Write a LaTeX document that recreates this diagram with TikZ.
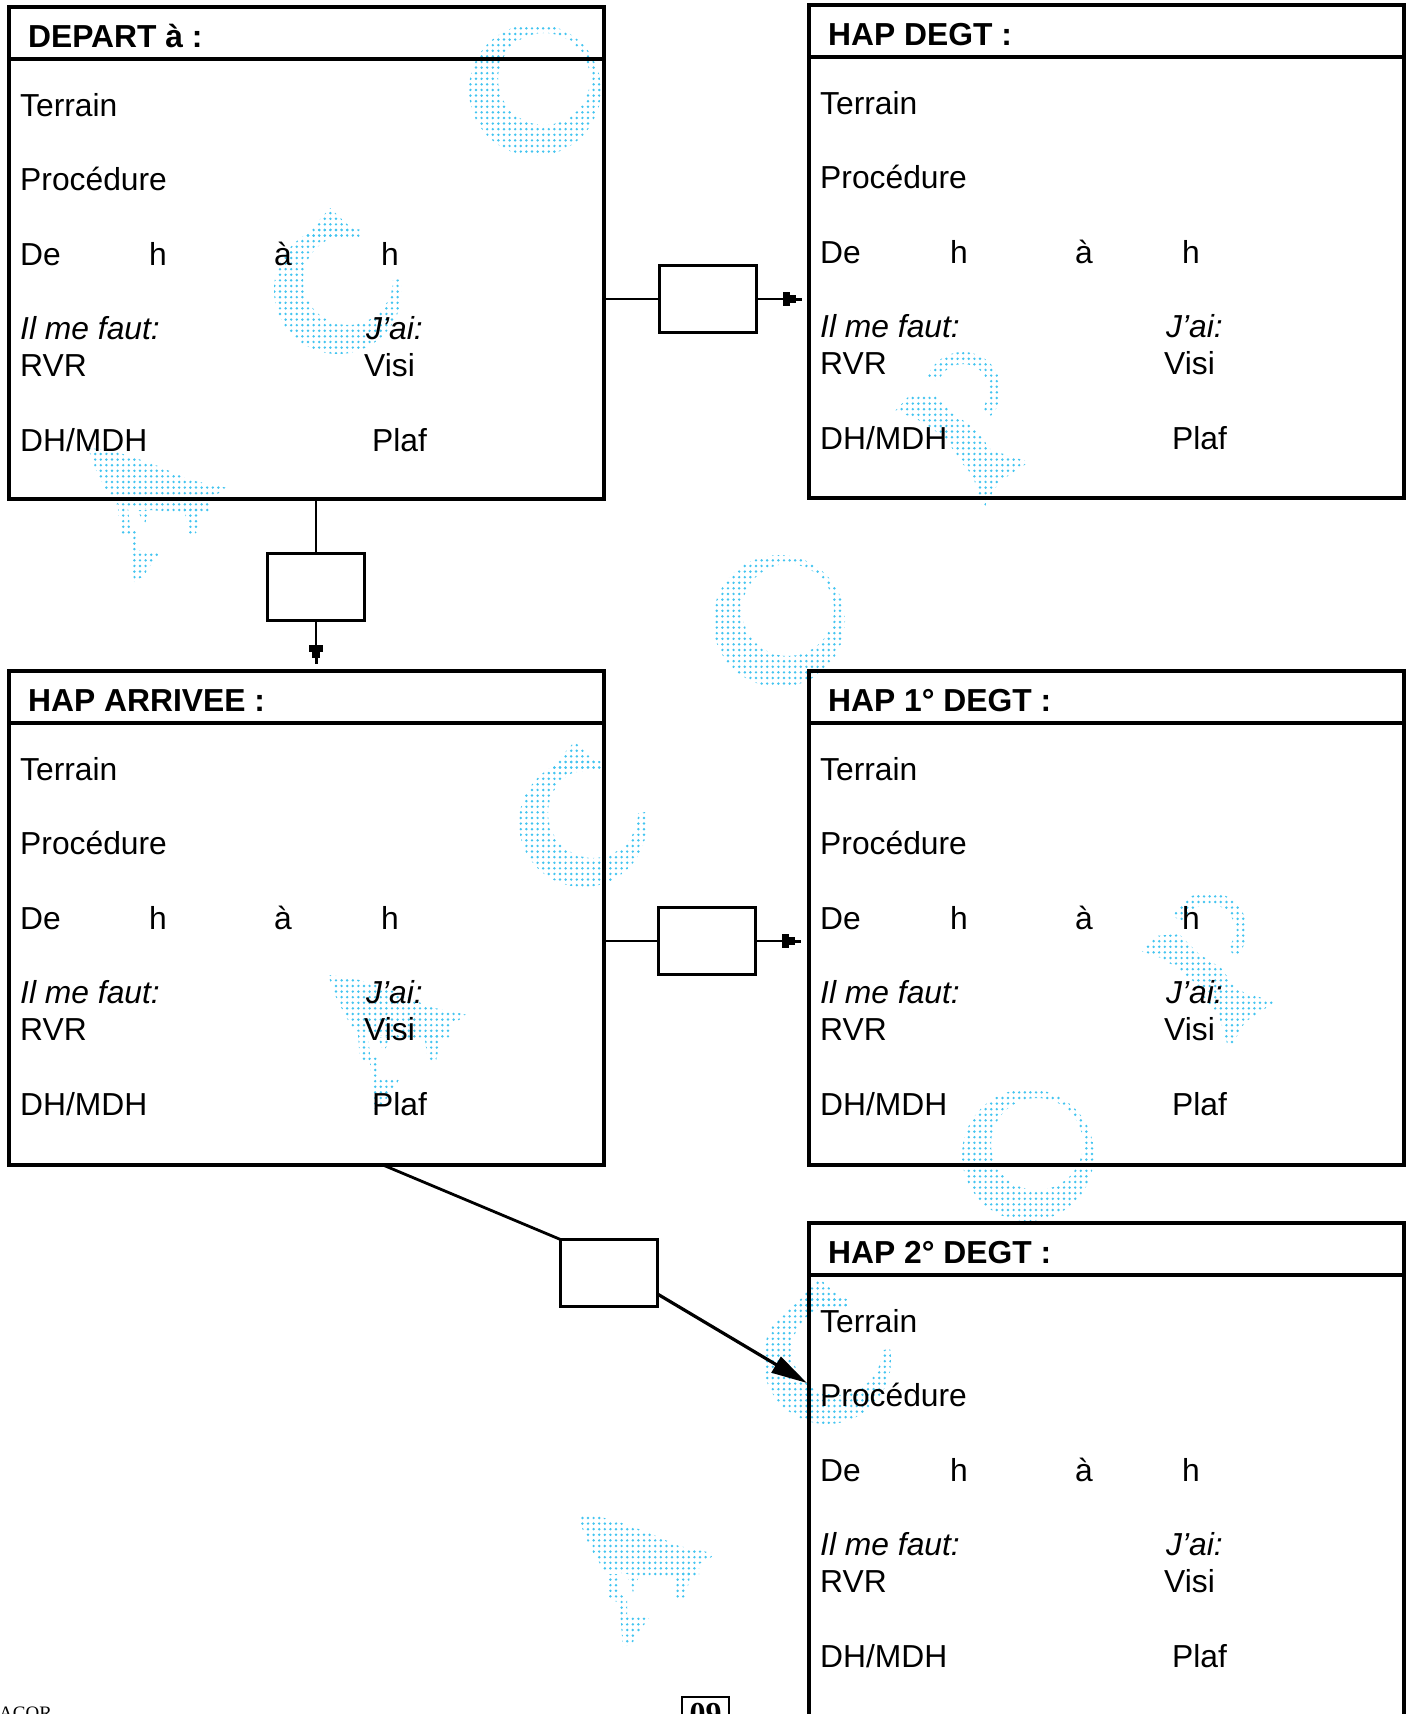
\documentclass[tikz,border=0pt]{standalone}
\usepackage{fontspec}
\setmainfont{Liberation Sans}
\newfontfamily\serialfont{Liberation Serif}
\usepackage{tikz}
\usetikzlibrary{arrows.meta,positioning,calc,patterns.meta}
\definecolor{stampblue}{RGB}{66,196,240}
\newcommand{\formsize}{\fontsize{31.8pt}{38pt}\selectfont}

\begin{document}
\begin{tikzpicture}[
    x=1pt, y=-1pt,
    font=\formsize,
    formbox/.style={draw, line width=4.5pt, minimum width=595pt, inner sep=0pt, outer sep=0pt, anchor=north west},
    headrule/.style={line width=4.5pt},
    field/.style={anchor=base west, inner sep=0pt, font=\formsize},
    heading/.style={field, font=\formsize\bfseries},
    need/.style={field, font=\formsize\itshape},
    relay/.style={draw, line width=2.4pt, minimum width=97pt, minimum height=67pt, inner sep=0pt, outer sep=0pt},
    link/.style={line width=2.6pt},
    plug/.style={link, -{Rectangle[length=7pt,width=14pt]Rectangle[length=6pt,width=8pt]Rectangle[length=6pt,width=3pt]}},
    stamp/.style={pattern={Dots[distance=5.6pt,radius=1.35pt]}, pattern color=stampblue},
    ringmark/.pic={
        \fill[stamp, even odd rule] (0,0) circle[radius=66] (9,-11) circle[radius=46];
    },
    hookmark/.pic={
        \begin{scope}
            \clip (0,0) -- (-10:130) -- (40:150) -- (90:150) -- (180:150) -- (270:150) -- (290:130) -- cycle;
            \fill[stamp, even odd rule] (0,0) circle[radius=64] (10,-10) circle[radius=45];
        \end{scope}
        \fill[stamp] (-36,-50) -- (-8,-82) -- (24,-52) -- cycle;
    },
    wedgemark/.pic={
        \fill[stamp] (-2,0) -- (18,2) -- (40,8) -- (68,18) -- (100,32) -- (138,40) -- (120,50) -- (120,64)
            -- (85,64) -- (60,62) -- (25,56) -- (16,42) -- (6,22) -- cycle;
        \fill[stamp] (28,60) -- (38,60) -- (40,80) -- (48,84) -- (48,102) -- (70,104) -- (60,118) -- (54,128)
            -- (44,134) -- (42,110) -- (40,88) -- (30,86) -- cycle;
        \fill[stamp] (48,62) -- (60,62) -- (54,78) -- cycle;
        \fill[stamp] (94,58) -- (112,58) -- (106,86) -- (98,86) -- cycle;
    },
    twirlmark/.pic={
        \fill[stamp] (200:38) arc[start angle=200, end angle=405, radius=38] -- (405:26) arc[start angle=405, end angle=200, radius=26] -- cycle;
        \fill[stamp] (-68,21) -- (-54,6) -- (-30,4) -- (-10,24) -- (12,38) -- (28,60) -- (66,72) -- (36,92)
            -- (20,120) -- (10,86) -- (-2,72) -- (-15,52) -- (-30,39) -- (-48,28) -- cycle;
    }
]
\useasboundingbox (0,0) rectangle (1415,1714);
\clip (0,0) rectangle (1415,1714);

% background stamps
\foreach \sx/\sy in {535/90, 779/621, 1028/1155} \pic at (\sx,\sy) {ringmark};
\foreach \sx/\sy in {338/290, 583/823, 827/1360} \pic at (\sx,\sy) {hookmark};
\foreach \sx/\sy in {90/448, 330/975, 579/1514} \pic at (\sx,\sy) {wedgemark};
\foreach \sx/\sy in {963/390, 1209/930} \pic at (\sx,\sy) {twirlmark};

% the five forms
\foreach \fm/\bx/\by/\bh/\dx/\title in {
    depart/9/7/492/0/{DEPART à :},
    degt/809/5/493/1/{HAP DEGT :},
    arrivee/9/671/494/0/{HAP ARRIVEE :},
    degt1/809/671/494/1/{HAP 1° DEGT :},
    degt2/809/1223/600/1/{HAP 2° DEGT :}}
{
    \node[formbox, minimum height=\bh pt] (\fm) at (\bx,\by) {};
    \draw[headrule] ([yshift=-52pt]\fm.north west) -- ([yshift=-52pt]\fm.north east);
    \node[heading] (\fm-title) at (\bx+19,\by+40) {\title};
    \node[field] (\fm-terrain) at (\bx+11,\by+109) {Terrain};
    \node[field] (\fm-proc) at (\bx+11,\by+183) {Procédure};
    \node[field] (\fm-from) at (\bx+11,\by+258) {De};
    \node[field] (\fm-h1) at (\bx+140+\dx,\by+258) {h};
    \node[field] (\fm-to) at (\bx+265+\dx,\by+258) {à};
    \node[field] (\fm-h2) at (\bx+372+\dx,\by+258) {h};
    \node[need] (\fm-need) at (\bx+11,\by+332) {Il me faut:};
    \node[need] (\fm-have) at (\bx+357,\by+332) {J’ai:};
    \node[field] (\fm-rvr) at (\bx+11,\by+369) {RVR};
    \node[field] (\fm-visi) at (\bx+355,\by+369) {Visi};
    \node[field] (\fm-dh) at (\bx+11,\by+444) {DH/MDH};
    \node[field] (\fm-plaf) at (\bx+363,\by+444) {Plaf};
}

% relay boxes and links
\node[relay] (relay1) at (708,299) {};
\node[relay] (relay2) at (316,587) {};
\node[relay] (relay3) at (707,941) {};
\node[relay] (relay4) at (609,1273) {};

\draw[link] (relay1.west -| depart.east) -- (relay1.west);
\coordinate (tip1) at ($(degt.west |- relay1.east)+(-7,0)$);
\draw[plug] (relay1.east) -- (tip1);

\draw[link] (depart.south -| relay2.north) -- (relay2.north);
\coordinate (tip2) at ($(arrivee.north -| relay2.south)+(0,-7)$);
\draw[plug] (relay2.south) -- (tip2);

\draw[link] (relay3.west -| arrivee.east) -- (relay3.west);
\coordinate (tip3) at ($(degt1.west |- relay3.east)+(-8,0)$);
\draw[plug] (relay3.east) -- (tip3);

\coordinate (out4) at ([xshift=374pt]arrivee.south west);
\draw[link, line width=2.8pt] (out4) -- (relay4.north west);
\coordinate (tip4) at ([xshift=-2pt,yshift=-160pt]degt2.north west);
\draw[link, line width=3.2pt, -{Triangle[length=36pt,width=18pt]}] ([yshift=-21pt]relay4.east) -- (tip4);

% page footer
\node[field, font=\serialfont\fontsize{19pt}{22pt}\selectfont] (footer) at (-1,1719) {ACOR};
\node[draw, line width=2.2pt, anchor=north, minimum width=47pt, minimum height=34pt, inner sep=0pt, outer sep=0pt,
    font=\serialfont\bfseries\fontsize{32pt}{36pt}\selectfont] (pageno) at (705.5,1697) {09};
\end{tikzpicture}
\end{document}
